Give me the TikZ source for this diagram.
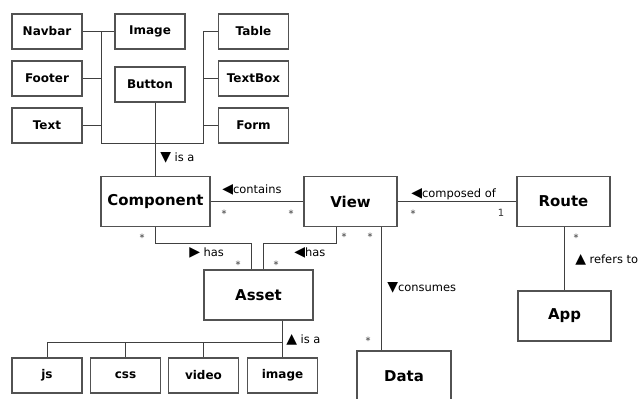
\documentclass[tikz,border=0pt]{standalone}
\usepackage{fontspec}
\setmainfont{DejaVu Sans}
\newcommand{\trig}[1]{{\fontsize{10.5}{10}\selectfont #1}}
\begin{document}
\begin{tikzpicture}[x=0.75pt,y=-0.75pt,
  box/.style={draw=black!68,line width=0.85pt,fill=white,inner sep=0pt,font=\bfseries\fontsize{9}{11}\selectfont},
  sbox/.style={box,minimum width=52.5pt,minimum height=26.25pt},
  bbox/.style={box,minimum height=37.5pt,font=\bfseries\fontsize{11.2}{13}\selectfont},
  conn/.style={draw=black!75,line width=0.8pt},
  lbl/.style={anchor=west,inner sep=0pt,font=\fontsize{8.6}{10}\selectfont},
  mult/.style={inner sep=0pt,text=black!80,font=\fontsize{7.5}{9}\selectfont}]
\useasboundingbox[fill=white] (0,0) rectangle (640,399);
% small boxes top
\node[sbox] (navbar) at (47,31.5) {Navbar};
\node[sbox] (image) at (150,31.5) {Image};
\node[sbox] (table) at (253.5,31.5) {Table};
\node[sbox] (footer) at (47,78.5) {Footer};
\node[sbox] (button) at (150,84.5) {Button};
\node[sbox] (textbox) at (253.5,78.5) {TextBox};
\node[sbox] (text) at (47,125.5) {Text};
\node[sbox] (form) at (253.5,125.5) {Form};
% main boxes
\node[bbox,minimum width=81.75pt] (component) at (155.5,201.5) {Component};
\node[bbox,minimum width=69.75pt] (view) at (350.5,201.5) {View};
\node[bbox,minimum width=69.75pt] (route) at (563.5,201.5) {Route};
\node[bbox,minimum width=69.75pt] (app) at (564.5,316) {App};
\node[bbox,minimum width=81.75pt] (asset) at (258.5,295) {Asset};
\node[bbox,minimum width=70.5pt] (data) at (404,376) {Data};
% bottom boxes
\node[sbox] (js) at (47,375.5) {js};
\node[sbox] (css) at (125.5,375.5) {css};
\node[sbox] (video) at (203.5,375.5) {video};
\node[sbox] (imagea) at (282.5,375.5) {image};
% coordinates
\coordinate (bl) at (101.5,143.5);
\coordinate (br) at (203.5,143.5);
\coordinate (ch) at (155.5,243.5);
\coordinate (vh) at (336.5,243.5);
\coordinate (ab) at (282.5,342.5);
\coordinate (jb) at (47.5,342.5);
% top tree
\draw[conn] (navbar.east) -- (image.west);
\draw[conn] (navbar.east -| bl) |- (br) |- (table.west);
\draw[conn] (footer.east) -- (footer.east -| bl);
\draw[conn] (text.east) -- (text.east -| bl);
\draw[conn] (textbox.west) -- (textbox.west -| br);
\draw[conn] (form.west) -- (form.west -| br);
\draw[conn] (button.south -| component.north) -- (component.north);
% associations
\draw[conn] (component.east) -- (view.west);
\draw[conn] (view.east) -- (route.west);
\draw[conn] (route.south -| app.north) -- (app.north);
\draw[conn] (381.5,0 |- view.south) -- (381.5,0 |- data.north);
\draw[conn] (component.south -| ch) |- (251.5,243.5) -- (251.5,0 |- asset.north);
\draw[conn] (view.south -| vh) |- (263.5,243.5) -- (263.5,0 |- asset.north);
% bottom tree
\draw[conn] (asset.south -| ab) -- (ab);
\draw[conn] (jb) -- (ab);
\draw[conn] (jb) -- (jb |- js.north);
\draw[conn] (css.north |- ab) -- (css.north);
\draw[conn] (video.north |- ab) -- (video.north);
\draw[conn] (ab) -- (imagea.north);
% labels
\node[lbl] (lisa) at (160,158) {\trig{▼} is a};
\node[lbl] (lcont) at (222,190) {\trig{◀}contains};
\node[mult] (m1) at (224,214) {*};
\node[mult] (m2) at (291,214) {*};
\node[lbl] (lcomp) at (411,194) {\trig{◀}composed of};
\node[mult] (m3) at (413,214) {*};
\node[mult] (m4) at (501,213) {1};
\node[mult] (m5) at (576,238) {*};
\node[lbl] (lref) at (575,260) {\trig{▲} refers to};
\node[mult] (m6) at (344,237) {*};
\node[mult] (m7) at (370,237) {*};
\node[lbl] (lcons) at (387,288) {\trig{▼}consumes};
\node[mult] (m8) at (368,341) {*};
\node[mult] (m9) at (142,238) {*};
\node[lbl] (lhas1) at (189,253) {\trig{▶} has};
\node[mult] (m10) at (238,265) {*};
\node[mult] (m11) at (276,265) {*};
\node[lbl] (lhas2) at (294,253) {\trig{◀}has};
\node[lbl] (lisa2) at (286,340) {\trig{▲} is a};
\end{tikzpicture}
\end{document}
